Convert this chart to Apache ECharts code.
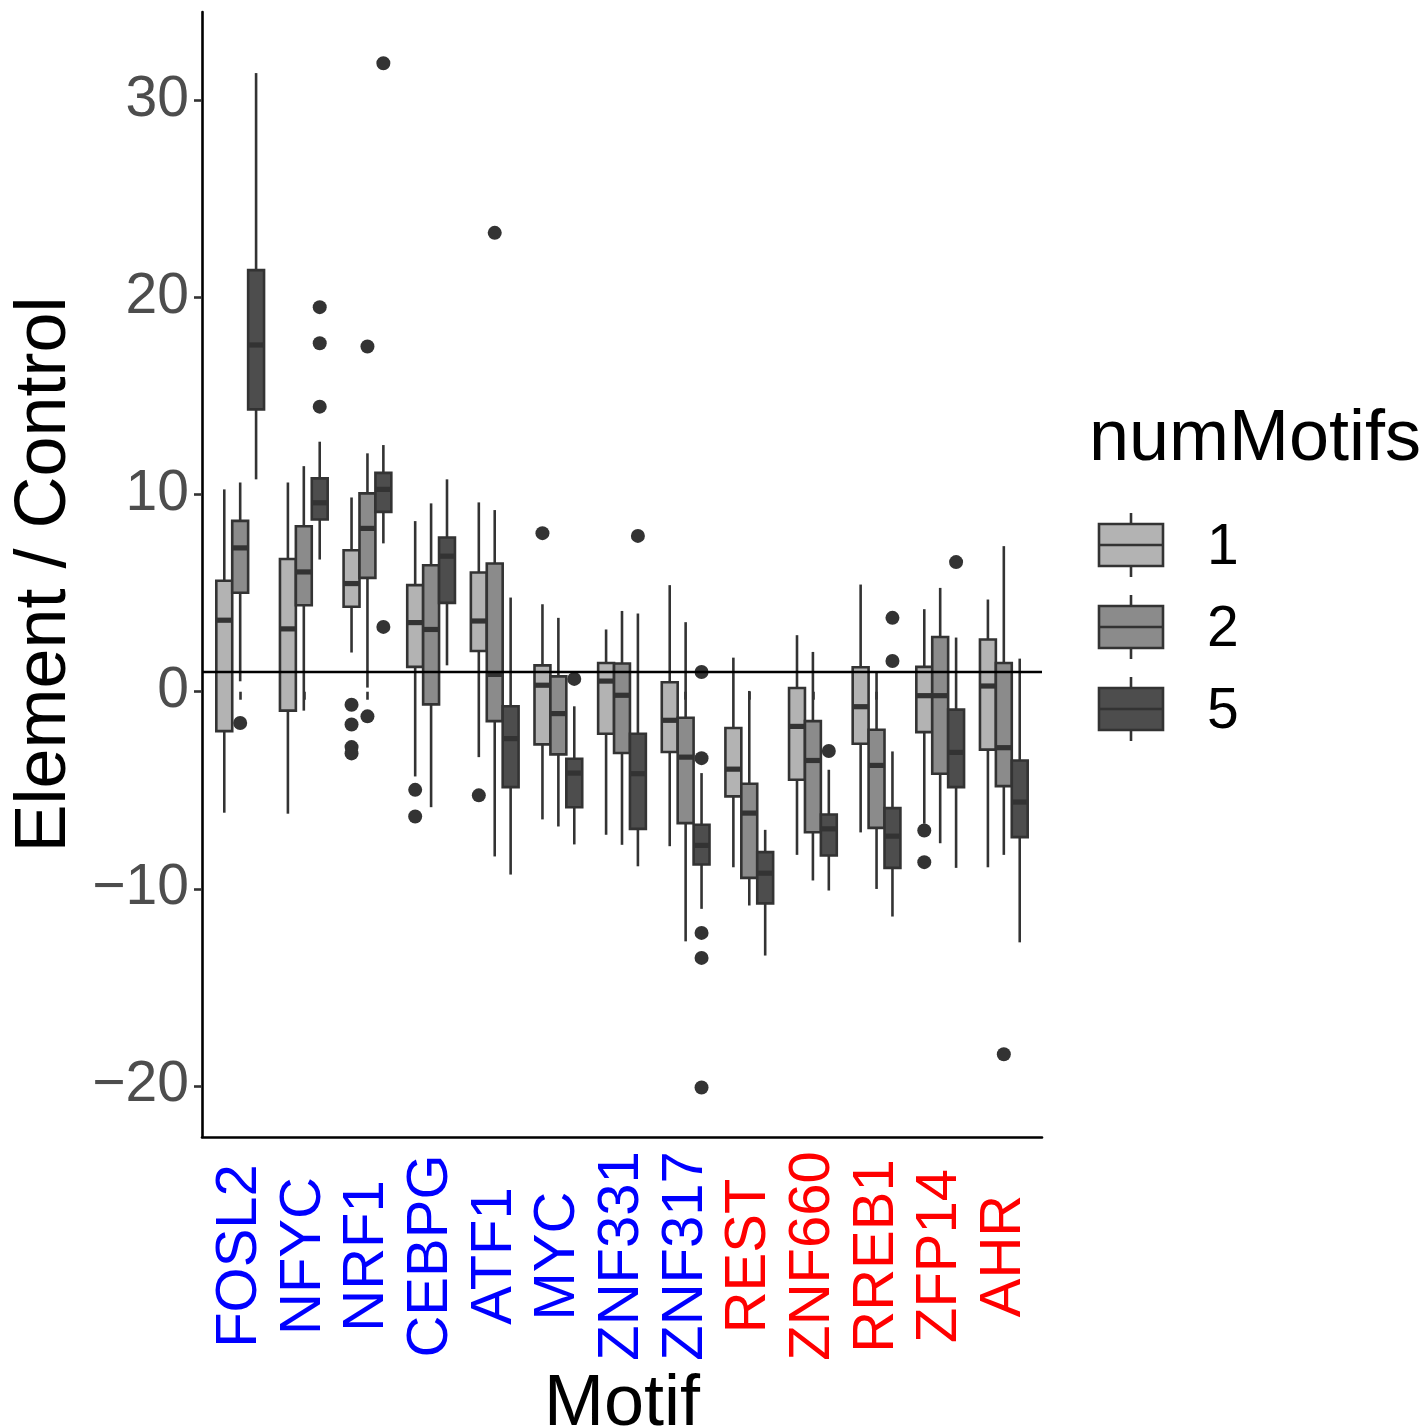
<!DOCTYPE html>
<html><head><meta charset="utf-8">
<script src="https://cdn.jsdelivr.net/npm/echarts@6/dist/echarts.min.js"></script>
<style>html,body{margin:0;padding:0;background:#fff}#c{width:1428px;height:1427px}</style>
</head><body><div id="c"></div>
<script>
const categories = ['FOSL2','NFYC','NRF1','CEBPG','ATF1','MYC','ZNF331','ZNF317','REST','ZNF660','RREB1','ZFP14','AHR'];
const labelColors = ['#0000FF','#0000FF','#0000FF','#0000FF','#0000FF','#0000FF','#0000FF','#0000FF','#FF0000','#FF0000','#FF0000','#FF0000','#FF0000'];
const groups = ['1','2','5'];
const yTicks = [-20,-10,0,10,20,30];
const refValue = 1;
// [min, Q1, median, Q3, max] per category
const box1 = [
  [-6.14,-2.00,3.63,5.63,10.27],[-6.19,-0.96,3.19,6.74,10.62],[1.99,4.31,5.49,7.18,9.86],
  [-4.30,1.26,3.51,5.41,8.66],[-3.32,2.07,3.59,6.05,9.61],[-6.48,-2.67,0.33,1.34,4.44],
  [-7.26,-2.13,0.54,1.46,3.16],[-7.84,-3.06,-1.45,0.48,5.41],[-8.91,-5.31,-3.93,-1.84,1.73],
  [-8.28,-4.47,-1.76,0.19,2.87],[-7.14,-2.64,-0.76,1.24,5.44],[-6.70,-2.05,-0.20,1.26,4.19],
  [-8.91,-2.94,0.29,2.65,4.68]
];
const box2 = [
  [0.53,5.02,7.30,8.67,10.62],[-0.96,4.39,6.08,8.40,11.45],[0.21,5.78,8.29,10.07,12.10],
  [-5.86,-0.64,3.16,6.42,9.56],[-8.36,-1.49,0.88,6.51,9.22],[-6.84,-3.18,-1.11,0.78,3.75],
  [-7.77,-3.11,-0.18,1.43,4.10],[-12.67,-6.67,-3.32,-1.32,3.53],[-10.85,-9.45,-6.16,-4.67,0.04],
  [-9.58,-7.13,-3.49,-1.49,2.02],[-10.01,-6.91,-3.74,-1.93,0.95],[-7.69,-4.16,-0.20,2.78,5.27],
  [-8.28,-4.79,-2.84,1.46,7.39]
];
const box5 = [
  [10.78,14.33,17.60,21.40,31.40],[6.71,8.74,9.59,10.83,12.69],[7.53,9.13,10.27,11.11,12.52],
  [1.34,4.51,6.88,7.83,10.78],[-9.28,-4.84,-2.38,-0.74,4.78],[-7.75,-5.86,-4.13,-3.40,-0.74],
  [-8.86,-6.96,-4.16,-2.13,3.97],[-11.02,-8.77,-7.80,-6.75,-4.13],[-13.39,-10.74,-9.21,-8.14,-7.01],
  [-10.09,-8.31,-6.96,-6.23,-3.96],[-11.41,-8.94,-7.33,-5.91,-3.03],[-8.94,-4.84,-3.08,-0.91,2.75],
  [-12.72,-7.38,-5.60,-3.49,1.68]
];
// outliers: [categoryIndex, value]
const out1 = [[2,-0.66],[2,-1.66],[2,-2.81],[2,-3.13],[3,-4.98],[3,-6.33],[4,-5.26],[5,8.05],[11,-7.04],[11,-8.65]];
const out2 = [[0,-1.59],[2,17.52],[2,-1.25],[4,23.29],[12,-18.40]];
const out5 = [[1,19.52],[1,17.69],[1,14.47],[2,31.90],[2,3.29],[5,0.65],[6,7.91],[7,1.00],[7,-3.37],[7,-12.24],[7,-13.51],[7,-20.09],[9,-3.01],[10,3.75],[10,1.56],[11,6.58]];

const fills = ['#B3B3B3','#8B8B8B','#4D4D4D'];
const edge = '#333333';
const LW = 2.6;
const FONT = 'Liberation Sans, Arial, Helvetica, sans-serif';

function boxRender(gi){
  return function(params, api){
    const i = api.value(0);
    const bw = api.size([1,0])[0];
    const off = (gi-1)*bw*0.25;
    const hw = bw*0.125;
    const pMin = api.coord([i, api.value(1)]);
    const pQ1 = api.coord([i, api.value(2)]);
    const pMed = api.coord([i, api.value(3)]);
    const pQ3 = api.coord([i, api.value(4)]);
    const pMax = api.coord([i, api.value(5)]);
    const x = pMin[0] + off;
    const ls = {stroke: edge, lineWidth: LW};
    return {type:'group', children:[
      {type:'line', shape:{x1:x,y1:pMax[1],x2:x,y2:pQ3[1]}, style:ls},
      {type:'line', shape:{x1:x,y1:pQ1[1],x2:x,y2:pMin[1]}, style:ls},
      {type:'rect', shape:{x:x-hw,y:pQ3[1],width:2*hw,height:pQ1[1]-pQ3[1]}, style:{fill:fills[gi],stroke:edge,lineWidth:LW}},
      {type:'line', shape:{x1:x-hw,y1:pMed[1],x2:x+hw,y2:pMed[1]}, style:{stroke:edge,lineWidth:5.2}}
    ]};
  };
}
function outRender(gi){
  return function(params, api){
    const p = api.coord([api.value(0), api.value(1)]);
    const bw = api.size([1,0])[0];
    return {type:'circle', shape:{cx:p[0]+(gi-1)*bw*0.25, cy:p[1], r:7}, style:{fill:edge}};
  };
}
const boxes = [box1, box2, box5];
const outs = [out1, out2, out5];
const yMin = -22.6, yMax = 34.5;

const series = [];
groups.forEach((g, gi) => {
  series.push({
    type:'custom', name:g, xAxisIndex:0, yAxisIndex:0,
    data: boxes[gi].map((b,i)=>[i].concat(b)),
    encode:{x:0, y:[1,2,3,4,5]},
    renderItem: boxRender(gi), z:2
  });
  series.push({
    type:'custom', name:g+' outliers', xAxisIndex:0, yAxisIndex:0,
    data: outs[gi], encode:{x:0,y:1},
    renderItem: outRender(gi), z:3
  });
});
series.push({
  type:'line', xAxisIndex:1, yAxisIndex:1, data:[[0,refValue],[1,refValue]],
  symbol:'none', lineStyle:{color:'#000',width:2.6}, z:5, silent:true
});

const legendGraphics = [
  {type:'text', x:1089, y:440, style:{text:'numMotifs', font:'72px '+FONT, fill:'#000', verticalAlign:'middle', align:'left'}}
];
const keyTops = [524, 606, 688];
groups.forEach((g, gi) => {
  const t = keyTops[gi];
  legendGraphics.push({type:'line', shape:{x1:1131,y1:t-11,x2:1131,y2:t}, style:{stroke:edge,lineWidth:LW}});
  legendGraphics.push({type:'line', shape:{x1:1131,y1:t+42,x2:1131,y2:t+53}, style:{stroke:edge,lineWidth:LW}});
  legendGraphics.push({type:'rect', shape:{x:1099,y:t,width:64,height:42}, style:{fill:fills[gi],stroke:edge,lineWidth:LW}});
  legendGraphics.push({type:'line', shape:{x1:1099,y1:t+21,x2:1163,y2:t+21}, style:{stroke:edge,lineWidth:LW}});
  legendGraphics.push({type:'text', x:1207, y:t+24, style:{text:g, font:'57px '+FONT, fill:'#000', verticalAlign:'middle', align:'left'}});
});

const chart = echarts.init(document.getElementById('c'), null, {renderer:'canvas'});
chart.setOption({
  animation:false,
  backgroundColor:'#fff',
  textStyle:{fontFamily:FONT},
  grid:[
    {left:208.36, right:392.36, top:12, bottom:290, containLabel:false, outerBoundsMode:'none'},
    {left:202, right:386, top:12, bottom:290, containLabel:false, outerBoundsMode:'none'}
  ],
  xAxis:[
    {type:'category', gridIndex:0, data:categories, boundaryGap:true,
     axisLine:{show:false},
     axisTick:{show:true, alignWithLabel:true, length:8, lineStyle:{color:edge,width:LW}},
     axisLabel:{rotate:90, fontSize:58, fontFamily:FONT, margin:119, interval:0, align:'center',
       padding:[8,0,0,0],
       color:(v, idx)=>labelColors[categories.indexOf(v)]},
     splitLine:{show:false},
     name:'Motif', nameLocation:'middle', nameGap:198,
     nameTextStyle:{fontSize:72, color:'#000', fontFamily:FONT}},
    {type:'value', gridIndex:1, min:0, max:1, position:'bottom',
     axisLine:{show:true, onZero:false, lineStyle:{color:'#000',width:2.6}},
     axisTick:{show:false}, axisLabel:{show:false}, splitLine:{show:false}}
  ],
  yAxis:[
    {type:'value', gridIndex:0, min:yMin, max:yMax, offset:6.36,
     axisLine:{show:true, lineStyle:{color:'#000',width:2.6}},
     axisTick:{show:true, length:8, lineStyle:{color:edge,width:LW}, customValues:yTicks},
     axisLabel:{fontSize:57, color:'#4D4D4D', fontFamily:FONT, margin:13, customValues:yTicks,
       formatter:v=> v<0 ? '\u2212'+Math.abs(v) : String(v)},
     splitLine:{show:false},
     name:'Element / Control', nameLocation:'middle', nameGap:120,
     nameTextStyle:{fontSize:72, color:'#000', fontFamily:FONT}},
    {type:'value', gridIndex:1, min:yMin, max:yMax, show:false}
  ],
  series: series,
  graphic: legendGraphics
});
</script></body></html>
